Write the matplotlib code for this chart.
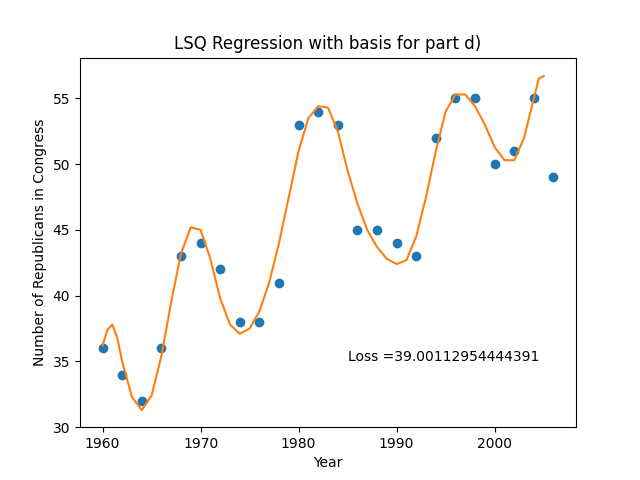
import matplotlib
matplotlib.use("Agg")
import matplotlib.pyplot as plt

# observed data
years = [1960, 1962, 1964, 1966, 1968, 1970, 1972, 1974, 1976, 1978, 1980, 1982,
         1984, 1986, 1988, 1990, 1992, 1994, 1996, 1998, 2000, 2002, 2004, 2006]
reps = [36, 34, 32, 36, 43, 44, 42, 38, 38, 41, 53, 54,
        53, 45, 45, 44, 43, 52, 55, 55, 50, 51, 55, 49]

# fitted curve
fit_x = [1960, 1960.5, 1961, 1961.5, 1962, 1963, 1964, 1965, 1966, 1967, 1968, 1969,
         1970, 1971, 1972, 1973, 1974, 1975, 1976, 1977, 1978, 1979, 1980, 1981,
         1982, 1983, 1984, 1985, 1986, 1987, 1988, 1989, 1990, 1991, 1992, 1993,
         1994, 1995, 1996, 1997, 1998, 1999, 2000, 2001, 2002, 2003, 2004, 2004.5, 2005]
fit_y = [36.2, 37.4, 37.8, 36.8, 35.0, 32.3, 31.3, 32.4, 35.4, 39.5, 43.2, 45.2,
         45.0, 42.8, 39.8, 37.8, 37.1, 37.5, 38.8, 41.0, 44.0, 47.5, 51.0, 53.5,
         54.4, 54.3, 52.5, 49.5, 47.0, 45.0, 43.7, 42.8, 42.4, 42.7, 44.5, 47.5,
         51.0, 54.0, 55.3, 55.3, 54.4, 53.0, 51.3, 50.3, 50.3, 52.0, 55.0, 56.5, 56.7]
loss = 39.00112954444391

plt.figure(figsize=(6.4, 4.8))
plt.scatter(years, reps)
plt.plot(fit_x, fit_y, color="tab:orange")
plt.text(1985, 35, "Loss =" + str(loss))
plt.xlabel("Year")
plt.ylabel("Number of Republicans in Congress")
plt.title("LSQ Regression with basis for part d)")
plt.ylim(30, 58.1)
plt.savefig("out.png", dpi=100)
